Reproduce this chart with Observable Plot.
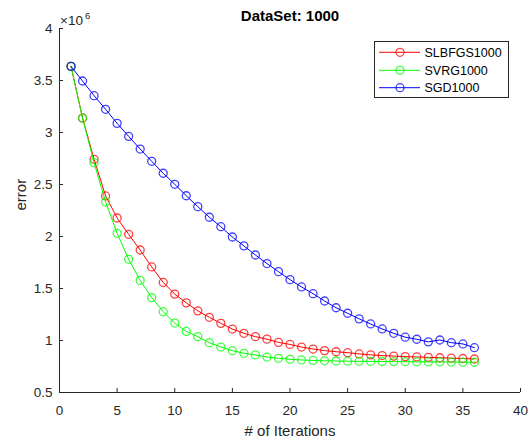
<!DOCTYPE html>
<html><head><meta charset="utf-8">
<script src="https://cdn.jsdelivr.net/npm/d3@7"></script>
<script src="https://cdn.jsdelivr.net/npm/@observablehq/plot@0.6"></script>
<style>body{margin:0;background:#fff;} #chart{width:529px;height:439px;}</style>
</head><body><div id="chart"></div>
<script>
const iterations = d3.range(1, 37);
const seriesNames = ["SLBFGS1000", "SVRG1000", "SGD1000"];
const seriesColors = ["#ff0000", "#00ff00", "#0000ff"];
// error values in units of 10^6
const slbfgs = [3.636, 3.140, 2.742, 2.390, 2.178, 2.021, 1.870, 1.707, 1.558, 1.446, 1.362, 1.285, 1.223, 1.165, 1.110, 1.069, 1.037, 1.013, 0.982, 0.962, 0.937, 0.918, 0.903, 0.892, 0.883, 0.871, 0.862, 0.855, 0.850, 0.845, 0.842, 0.838, 0.834, 0.830, 0.827, 0.822];
const svrg = [3.636, 3.137, 2.710, 2.332, 2.031, 1.781, 1.578, 1.412, 1.277, 1.168, 1.088, 1.037, 0.979, 0.937, 0.902, 0.877, 0.861, 0.841, 0.829, 0.819, 0.813, 0.808, 0.805, 0.803, 0.801, 0.800, 0.799, 0.798, 0.797, 0.796, 0.795, 0.794, 0.794, 0.793, 0.792, 0.791];
const sgd = [3.636, 3.495, 3.354, 3.223, 3.088, 2.963, 2.841, 2.723, 2.608, 2.502, 2.392, 2.287, 2.185, 2.094, 1.995, 1.910, 1.822, 1.740, 1.662, 1.585, 1.515, 1.450, 1.380, 1.315, 1.262, 1.208, 1.159, 1.111, 1.069, 1.032, 1.012, 0.987, 1.005, 0.979, 0.967, 0.931];
const xTicks = [0, 5, 10, 15, 20, 25, 30, 35, 40];
const yTicks = [0.5, 1, 1.5, 2, 2.5, 3, 3.5, 4];
const titleText = "DataSet: 1000";
const xLabel = "# of Iterations";
const yLabel = "error";
const yMultiplier = "\u00d710";
const yExponent = "6";

const allSeries = [slbfgs, svrg, sgd];
const tables = allSeries.map((vals, s) => vals.map((v, i) => ({series: seriesNames[s], iter: iterations[i], error: v})));

const W = 529, H = 439, mL = 59, mR = 9, mT = 28, mB = 47;
const fw = W - mL - mR, fh = H - mT - mB;
const font = "'Liberation Sans', Arial, Helvetica, sans-serif";
const axisColor = "#262626";
const dotR = 4, dotW = 1.3, dotOp = 0.75;

const seriesMarks = tables.flatMap((t, s) => [
  Plot.line(t, {x: "iter", y: "error", stroke: seriesColors[s], strokeWidth: 1}),
  Plot.dot(t, {x: "iter", y: "error", stroke: seriesColors[s], r: dotR, strokeWidth: dotW, strokeOpacity: dotOp})
]);

const plot = Plot.plot({
  width: W, height: H,
  marginLeft: mL, marginRight: mR, marginTop: mT, marginBottom: mB,
  style: {fontFamily: font, background: "white", overflow: "visible"},
  x: {domain: [0, 40], label: null},
  y: {domain: [0.5, 4], label: null},
  marks: [
    Plot.axisX(xTicks, {tickSize: 0, tickPadding: 12.5, fontSize: 13.5, color: axisColor, label: null, tickFormat: d => String(d)}),
    Plot.axisY(yTicks, {tickSize: 0, tickPadding: 7, fontSize: 13.5, color: axisColor, label: null, tickFormat: d => String(d)}),
    Plot.tickX(xTicks, {x: d => d, insetTop: fh - 4, stroke: axisColor}),
    Plot.tickY(yTicks, {y: d => d, insetRight: fw - 4, stroke: axisColor}),
    Plot.ruleX([0], {stroke: axisColor}),
    Plot.ruleY([0.5], {stroke: axisColor}),
    ...seriesMarks,
    Plot.text([titleText], {frameAnchor: "top", lineAnchor: "bottom", dy: -8, fontWeight: "bold", fontSize: 15, fill: "#000"}),
    Plot.text([xLabel], {frameAnchor: "bottom", lineAnchor: "bottom", dy: 43, fontSize: 15, fill: axisColor}),
    Plot.text([yLabel], {frameAnchor: "left", rotate: -90, lineAnchor: "bottom", dx: -34, fontSize: 15, fill: axisColor}),
    Plot.text([yMultiplier], {frameAnchor: "top-left", textAnchor: "start", lineAnchor: "bottom", dx: 0.5, dy: -4, fontSize: 13.5, fill: axisColor}),
    Plot.text([yExponent], {frameAnchor: "top-left", textAnchor: "start", lineAnchor: "bottom", dx: 25.5, dy: -10, fontSize: 9.5, fill: axisColor})
  ]
});

// legend
const svg = d3.select(plot);
const lg = svg.append("g").attr("font-family", font).attr("font-size", 12.5).attr("text-anchor", "start");
lg.append("rect").attr("x", 374.5).attr("y", 41.5).attr("width", 134).attr("height", 56)
  .attr("fill", "white").attr("stroke", axisColor).attr("stroke-width", 1);
const rowY = [52.3, 70.3, 87.7];
seriesNames.forEach((name, i) => {
  const y = rowY[i];
  lg.append("line").attr("x1", 379).attr("x2", 420).attr("y1", y).attr("y2", y)
    .attr("stroke", seriesColors[i]).attr("stroke-width", 1);
  lg.append("circle").attr("cx", 400).attr("cy", y).attr("r", dotR).attr("fill", "none")
    .attr("stroke", seriesColors[i]).attr("stroke-width", dotW).attr("stroke-opacity", dotOp);
  lg.append("text").attr("x", 424.5).attr("y", y).attr("dy", "0.35em").attr("text-anchor", "start")
    .attr("fill", "#000").text(name);
});

document.getElementById("chart").appendChild(plot);
</script>
</body></html>
